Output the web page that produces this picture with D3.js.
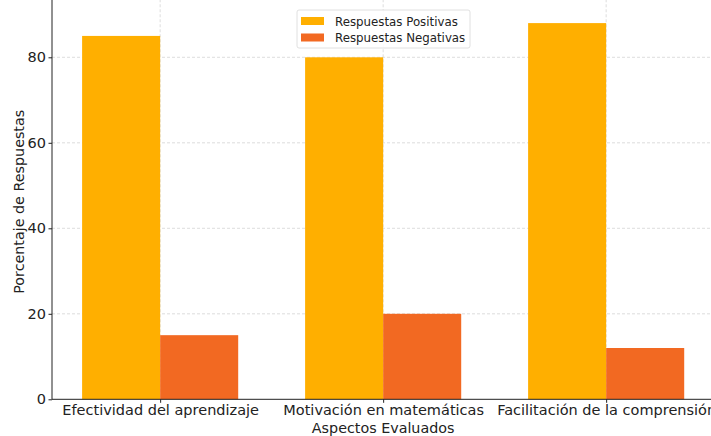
<!DOCTYPE html>
<html><head><meta charset="utf-8">
<script src="https://cdn.jsdelivr.net/npm/d3@7"></script>
<style>body{margin:0;background:#fff}svg{display:block}text{font-family:"DejaVu Sans",sans-serif}</style>
</head><body><svg id="c" width="711" height="436"></svg>
<script>
const categories = ["Efectividad del aprendizaje", "Motivación en matemáticas", "Facilitación de la comprensión"];
const seriesNames = ["Respuestas Positivas", "Respuestas Negativas"];
const positivas = [85, 80, 88];
const negativas = [15, 20, 12];
const yTicks = [0, 20, 40, 60, 80];
const colors = ["#FFAF00", "#F26922"];

const svg = d3.select("#c");
const left = 52, bottom = 399.3;
const unit = 223; // px per category
const x = d3.scaleLinear().domain([-0.485, 2.485]).range([left, left + 2.97 * unit]);
const y = d3.scaleLinear().domain([0, 92.4]).range([bottom, bottom - 92.4 * 4.275]);
const plotTop = y(92.4);
const bw = 0.35;

// grid
const g = svg.append("g");
g.selectAll(".hg").data(yTicks.slice(1)).join("line")
  .attr("x1", left).attr("x2", 711).attr("y1", d => y(d)).attr("y2", d => y(d))
  .attr("stroke", "#d4d4d4").attr("stroke-width", 0.8).attr("stroke-dasharray", "3,2");
g.selectAll(".vg").data(categories).join("line")
  .attr("x1", (d, i) => x(i)).attr("x2", (d, i) => x(i)).attr("y1", plotTop - 10).attr("y2", bottom)
  .attr("stroke", "#d4d4d4").attr("stroke-width", 0.8).attr("stroke-dasharray", "3,2");

// bars
const series = [positivas, negativas];
series.forEach((vals, s) => {
  svg.append("g").selectAll("rect").data(vals).join("rect")
    .attr("x", (d, i) => x(i + (s === 0 ? -bw : 0)))
    .attr("width", x(bw) - x(0))
    .attr("y", d => y(d))
    .attr("height", d => y(0) - y(d))
    .attr("fill", colors[s]);
});

// axes
const yAxis = d3.axisLeft(y).tickValues(yTicks).tickSize(3.5).tickPadding(2.5);
const ya = svg.append("g").attr("transform", `translate(${left},0)`).call(yAxis);
ya.select(".domain").remove();
ya.selectAll("text").attr("font-size", 14.5).attr("fill", "#222").attr("font-family", "DejaVu Sans");
ya.selectAll("line").attr("stroke", "#222");
svg.append("line").attr("x1", left).attr("x2", left).attr("y1", 0).attr("y2", bottom).attr("stroke", "#222").attr("stroke-width", 1);

const xAxis = d3.axisBottom(x).tickValues([0, 1, 2]).tickFormat(i => categories[i]).tickSize(3.5).tickPadding(2);
const xa = svg.append("g").attr("transform", `translate(0,${bottom})`).call(xAxis);
xa.select(".domain").remove();
xa.selectAll("text").attr("font-size", 14.5).attr("fill", "#222").attr("font-family", "DejaVu Sans");
xa.selectAll("line").attr("stroke", "#222");
svg.append("line").attr("x1", left).attr("x2", 711).attr("y1", bottom).attr("y2", bottom).attr("stroke", "#222").attr("stroke-width", 1);

// axis labels
svg.append("text").attr("x", x(1)).attr("y", 433).attr("text-anchor", "middle")
  .attr("font-size", 14.3).attr("fill", "#222").text("Aspectos Evaluados");
svg.append("text").attr("transform", `translate(24,${(bottom + plotTop) / 2}) rotate(-90)`)
  .attr("text-anchor", "middle").attr("font-size", 14.3).attr("fill", "#222").text("Porcentaje de Respuestas");

// legend
const lg = svg.append("g").attr("transform", "translate(297,10)");
lg.append("rect").attr("width", 173).attr("height", 38).attr("rx", 2).attr("fill", "#fff").attr("fill-opacity", 0.85)
  .attr("stroke", "#d8d8d8").attr("stroke-width", 0.8);
seriesNames.forEach((n, i) => {
  lg.append("rect").attr("x", 4).attr("y", 7 + i * 16.5).attr("width", 23).attr("height", 8).attr("fill", colors[i]);
  lg.append("text").attr("x", 38).attr("y", 15.5 + i * 16.5).attr("font-size", 11.8).attr("fill", "#222").text(n);
});
</script></body></html>
